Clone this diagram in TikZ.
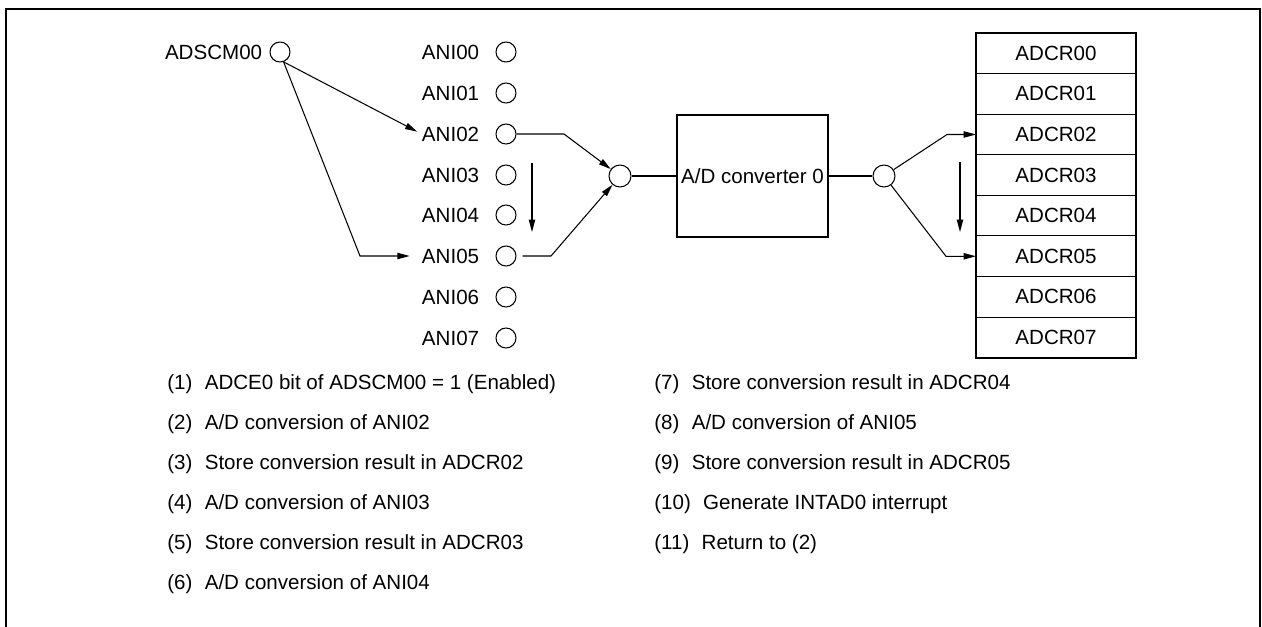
\documentclass[tikz,border=0pt]{standalone}
\usepackage{fontspec}
\setmainfont{Liberation Sans}
\usetikzlibrary{arrows.meta,positioning}

\tikzset{
  port/.style={draw, circle, minimum size=0.4cm, inner sep=0pt, line width=0.6pt},
  hub/.style={port, minimum size=0.44cm},
  cell/.style={draw, line width=0.6pt, minimum width=3.2cm, minimum height=0.812cm, inner sep=0pt, outer sep=0pt},
  wire/.style={line width=0.6pt},
  frame/.style={line width=1.2pt},
  tag/.style={inner sep=0pt, anchor=base west},
}

\begin{document}
\begin{tikzpicture}[x=0.02cm, y=-0.02cm, >={Triangle[length=7pt,width=3.6pt]}, every node/.style={font=\fontsize{11.7}{14}\selectfont}]
        \useasboundingbox (0,0) rectangle (1262,626);
        % frame, open at the bottom
        \draw[frame] (6,632) -- (6,9) -- (1260,9) -- (1260,632);

        % channel select
        \node[port] (adscm) at (280,52) {};
        \node[inner sep=0pt, left=0.14cm of adscm] (adscmtxt) {ADSCM00};

        % analog inputs
        \node[port] (ani0) at (506,52) {};
        \node[port] (ani1) at (506,93) {};
        \node[port] (ani2) at (506,134) {};
        \node[port] (ani3) at (506,175) {};
        \node[port] (ani4) at (506,215) {};
        \node[port] (ani5) at (506,256) {};
        \node[port] (ani6) at (506,297) {};
        \node[port] (ani7) at (506,338) {};
        \node[inner sep=0pt, left=0.32cm of ani0] (lbl0) {ANI00};
        \node[inner sep=0pt, left=0.32cm of ani1] (lbl1) {ANI01};
        \node[inner sep=0pt, left=0.32cm of ani2] (lbl2) {ANI02};
        \node[inner sep=0pt, left=0.32cm of ani3] (lbl3) {ANI03};
        \node[inner sep=0pt, left=0.32cm of ani4] (lbl4) {ANI04};
        \node[inner sep=0pt, left=0.32cm of ani5] (lbl5) {ANI05};
        \node[inner sep=0pt, left=0.32cm of ani6] (lbl6) {ANI06};
        \node[inner sep=0pt, left=0.32cm of ani7] (lbl7) {ANI07};

        \coordinate (bend5) at (360,256);
        \draw[wire,->,shorten >=0.1cm] (adscm.-70) -- (lbl2.west);
        \draw[wire,->,shorten >=0.24cm] (adscm.-70) -- (bend5) -- (lbl5.west);

        \coordinate (scanA) at (532,163);
        \coordinate (scanB) at (532,232);
        \draw[wire,->] (scanA) -- (scanB);

        % converter
        \node[hub] (mux) at (620,176) {};
        \node[draw, frame, minimum width=3.02cm, minimum height=2.44cm, inner sep=0pt] (adc) at (752.5,176) {A/D converter 0};
        \node[hub] (dmx) at (884,176) {};
        \coordinate (in2) at (564,134);
        \coordinate (in5) at (551,256);
        \draw[wire,->] (ani2) -- (in2) -- (mux);
        \draw[wire,->,shorten <=0.12cm] (ani5) -- (in5) -- (mux);
        \draw[wire] (mux) -- (adc);
        \draw[wire] (adc) -- (dmx);

        % result registers
        \node[cell] (reg0) at (1056,53.3) {ADCR00};
        \node[cell, below=0pt of reg0] (reg1) {ADCR01};
        \node[cell, below=0pt of reg1] (reg2) {ADCR02};
        \node[cell, below=0pt of reg2] (reg3) {ADCR03};
        \node[cell, below=0pt of reg3] (reg4) {ADCR04};
        \node[cell, below=0pt of reg4] (reg5) {ADCR05};
        \node[cell, below=0pt of reg5] (reg6) {ADCR06};
        \node[cell, below=0pt of reg6] (reg7) {ADCR07};
        \draw[frame] (reg0.north west) rectangle (reg7.south east);

        \coordinate (out2) at (947,134.5);
        \coordinate (out5) at (946,256.3);
        \draw[wire,->] (dmx) -- (out2) -- (reg2.west);
        \draw[wire,->] (dmx) -- (out5) -- (reg5.west);

        \coordinate (scanC) at (960,162);
        \coordinate (scanD) at (960,232);
        \draw[wire,->] (scanC) -- (scanD);

        % sequence
        \node[tag] (stage1) at (167,389) {(1)\hspace{0.6em}ADCE0 bit of ADSCM00 = 1 (Enabled)};
        \node[tag] (stage2) at (167,429) {(2)\hspace{0.6em}A/D conversion of ANI02};
        \node[tag] (stage3) at (167,469) {(3)\hspace{0.6em}Store conversion result in ADCR02};
        \node[tag] (stage4) at (167,509) {(4)\hspace{0.6em}A/D conversion of ANI03};
        \node[tag] (stage5) at (167,549) {(5)\hspace{0.6em}Store conversion result in ADCR03};
        \node[tag] (stage6) at (167,589) {(6)\hspace{0.6em}A/D conversion of ANI04};
        \node[tag] (stage7) at (654,389) {(7)\hspace{0.6em}Store conversion result in ADCR04};
        \node[tag] (stage8) at (654,429) {(8)\hspace{0.6em}A/D conversion of ANI05};
        \node[tag] (stage9) at (654,469) {(9)\hspace{0.6em}Store conversion result in ADCR05};
        \node[tag] (stage10) at (654,509) {(10)\hspace{0.6em}Generate INTAD0 interrupt};
        \node[tag] (stage11) at (654,549) {(11)\hspace{0.6em}Return to (2)};
    \end{tikzpicture}
\end{document}
